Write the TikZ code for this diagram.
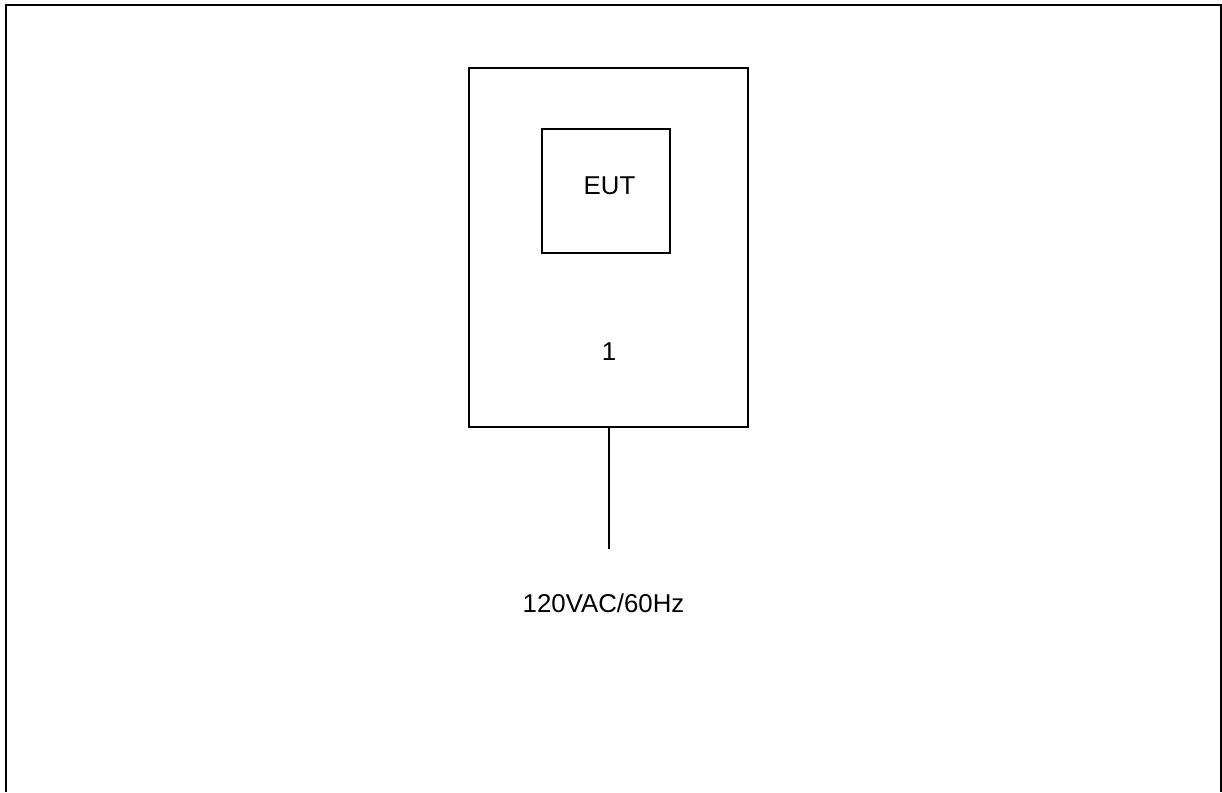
\documentclass[tikz,border=0pt]{standalone}
\usepackage{fontspec}
\setmainfont{Liberation Sans}
\begin{document}
\begin{tikzpicture}[x=1pt,y=-1pt,
  box/.style={draw=black,line width=1.6pt},
  lbl/.style={inner sep=0pt,font=\fontsize{25.8}{30}\selectfont}]
\useasboundingbox (0,0) rectangle (1222,792);
\draw[line width=1.8pt] (6,792) -- (6,5) -- (1221,5) -- (1221,792);
\node[box,minimum width=279pt,minimum height=359pt,inner sep=0pt] (outer) at (608.5,247.5) {};
\node[box,minimum width=128pt,minimum height=124pt,inner sep=0pt] (eut) at (606,191) {};
\node[lbl] (euttext) at (609.5,186) {EUT};
\node[lbl] (one) at (609,352) {1};
\coordinate (end) at (609,549);
\draw[line width=1.4pt] (outer.south -| end) -- (end);
\node[lbl] (ac) at (603.5,603) {120VAC/60Hz};
\end{tikzpicture}
\end{document}
